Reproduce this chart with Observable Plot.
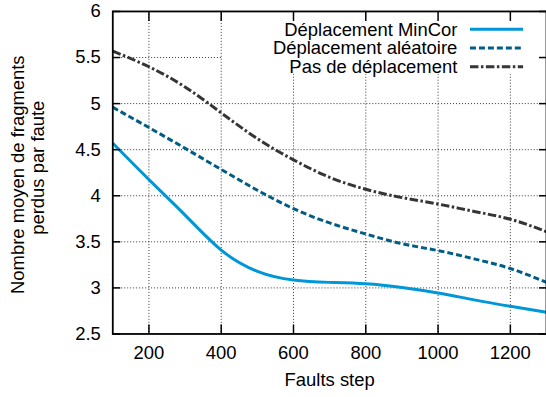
<!DOCTYPE html>
<html><head><meta charset="utf-8">
<script src="https://cdn.jsdelivr.net/npm/d3@7"></script>
<script src="https://cdn.jsdelivr.net/npm/@observablehq/plot@0.6"></script>
<style>
html,body{margin:0;padding:0;background:#fff;overflow:hidden;}
#wrap{position:relative;width:546px;height:397px;overflow:hidden;}
</style></head><body><div id="wrap"></div>
<script>
const faultsStep = [100, 200, 300, 400, 500, 600, 700, 800, 900, 1000, 1100, 1200, 1300];
const minCor = [4.57, 4.175, 3.79, 3.41, 3.18, 3.085, 3.06, 3.045, 3.005, 2.945, 2.87, 2.80, 2.735];
const aleatoire = [4.96, 4.74, 4.515, 4.285, 4.06, 3.86, 3.705, 3.585, 3.48, 3.405, 3.315, 3.21, 3.06];
const sansDeplacement = [5.57, 5.40, 5.18, 4.90, 4.62, 4.39, 4.20, 4.07, 3.98, 3.91, 3.83, 3.745, 3.61];
const seriesNames = ["Déplacement MinCor", "Déplacement aléatoire", "Pas de déplacement"];
const seriesValues = [minCor, aleatoire, sansDeplacement];
const xTicks = [200, 400, 600, 800, 1000, 1200];
const yTicks = [2.5, 3, 3.5, 4, 4.5, 5, 5.5, 6];
const yLabelLines = ["Nombre moyen de fragments", "perdus par faute"];
const xLabel = "Faults step";

const seriesColors = ["#0097d8", "#005d88", "#353535"];
const seriesDash = [null, "6,3", "8.5,2.5,2.5,2.5"];
const font = "'Liberation Sans', Arial, Helvetica, sans-serif";
const fs = 18.5;

const seriesRows = seriesValues.map((vals, s) =>
  faultsStep.map((step, i) => ({step, value: vals[i], series: seriesNames[s]})));

const innerGridY = yTicks.filter(v => v > 2.5 && v < 6);

const chart = Plot.plot({
  width: 548, height: 397,
  marginLeft: 112.7, marginRight: 0, marginTop: 11, marginBottom: 62.3,
  style: {fontFamily: font, fontSize: fs + "px", background: "white", color: "black", overflow: "visible"},
  x: {domain: [100, 1300]},
  y: {domain: [2.5, 6]},
  marks: [
    Plot.gridX(xTicks, {stroke: "#000", strokeOpacity: 0.8, strokeWidth: 1, strokeDasharray: "1,2"}),
    Plot.gridY(innerGridY, {stroke: "#000", strokeOpacity: 0.8, strokeWidth: 1, strokeDasharray: "1,2"}),
    ...seriesRows.map((rows, s) => Plot.line(rows, {
      x: "step", y: "value", stroke: seriesColors[s], strokeWidth: 3,
      strokeDasharray: seriesDash[s], strokeLinecap: "butt", curve: "natural"
    })),
    Plot.axisX(xTicks, {anchor: "bottom", tickSize: 0, tickPadding: 12, label: null, fontSize: fs, tickFormat: d => String(d)}),
    Plot.axisX(xTicks, {anchor: "bottom", tickSize: -9, label: null, fill: "none", stroke: "black", strokeWidth: 1.5}),
    Plot.axisX(xTicks, {anchor: "top", tickSize: -9, label: null, fill: "none", stroke: "black", strokeWidth: 1.5}),
    Plot.axisY(yTicks, {anchor: "left", tickSize: 0, tickPadding: 12, label: null, fontSize: fs, tickFormat: d => String(d)}),
    Plot.axisY(yTicks, {anchor: "left", tickSize: -8, label: null, fill: "none", stroke: "black", strokeWidth: 1.5}),
    Plot.axisY(yTicks, {anchor: "right", tickSize: -8, label: null, fill: "none", stroke: "black", strokeWidth: 1.5}),
    Plot.frame({stroke: "black", strokeWidth: 1.8}),
    Plot.text([yLabelLines[0]], {text: d => d, frameAnchor: "left", rotate: -90, textAnchor: "middle", lineAnchor: "middle", dx: -94.7, dy: 2, fontSize: fs}),
    Plot.text([yLabelLines[1]], {text: d => d, frameAnchor: "left", rotate: -90, textAnchor: "middle", lineAnchor: "middle", dx: -74.7, dy: -5, fontSize: fs}),
    Plot.text([xLabel], {text: d => d, frameAnchor: "bottom", textAnchor: "middle", lineAnchor: "middle", dy: 46, fontSize: fs})
  ]
});
document.getElementById("wrap").appendChild(chart);

// Legend (gnuplot-style key with opaque background, under ticks & frame)
const key = d3.create("svg:g").attr("aria-label", "legend");
key.append("rect").attr("x", 223).attr("y", 12).attr("width", 330).attr("height", 62).attr("fill", "white");
seriesNames.forEach((name, i) => {
  const cy = 29.3 + i * 18.8;
  key.append("text").attr("x", 459).attr("y", cy).attr("dy", "0.35em")
    .attr("text-anchor", "end").attr("font-family", font).attr("font-size", fs).attr("fill", "black").text(name);
  key.append("line").attr("x1", 471.7).attr("x2", 525).attr("y1", cy).attr("y2", cy)
    .attr("stroke", seriesColors[i]).attr("stroke-width", 3)
    .attr("stroke-dasharray", seriesDash[i]);
});
const lastGrid = chart.querySelector('[aria-label="y-grid"]');
if (lastGrid) lastGrid.after(key.node()); else chart.appendChild(key.node());
</script>
</body></html>
